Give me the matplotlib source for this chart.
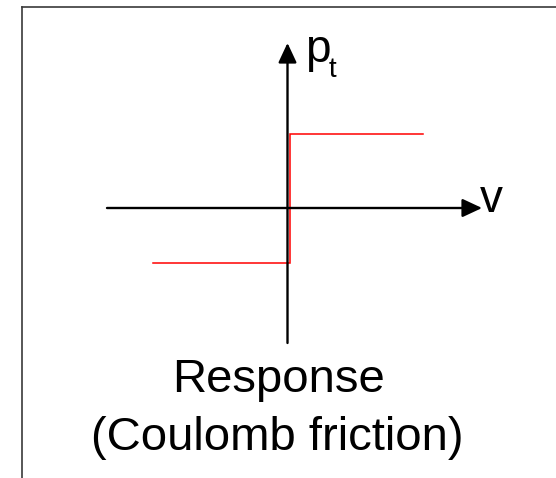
import matplotlib
matplotlib.use("Agg")
import matplotlib.pyplot as plt
from matplotlib.lines import Line2D

# Coulomb friction response: p_t jumps from the lower to the upper level at v = 0
v_vals = [-1.0, 0.02, 0.02, 1.0]
p_vals = [-0.74, -0.74, 1.0, 1.0]

# axis extents (data units)
v_axis = [-1.337, 1.441]
p_axis = [-1.824, 2.230]

W, H = 556, 478
fig = plt.figure(figsize=(W / 100, H / 100), dpi=100)
ax = fig.add_axes([0, 0, 1, 1])
ax.set_xlim(-287.5 / 135, (W - 287.5) / 135)
ax.set_ylim((208 - H) / 74, 208 / 74)
ax.axis("off")

def fx(px):
    return px / W

def fy(py):
    return 1 - py / H

# frame (top and left edges only)
fig.add_artist(Line2D([fx(21.5), 1], [fy(6.7), fy(6.7)], color="#3a3a3a", lw=1.2))
fig.add_artist(Line2D([fx(21.5), fx(21.5)], [fy(6.7), 0], color="#3a3a3a", lw=1.2))

# the response curve
ax.plot(v_vals, p_vals, color="red", lw=1.1, solid_joinstyle="miter")

# axes with arrows
arrow = dict(arrowstyle="-|>,head_length=0.6,head_width=0.28", color="black",
             lw=1.7, mutation_scale=20, shrinkA=0, shrinkB=0)
ax.annotate("", xy=(v_axis[1], 0), xytext=(v_axis[0], 0), arrowprops=arrow)
ax.annotate("", xy=(0, p_axis[1]), xytext=(0, p_axis[0]), arrowprops=arrow)

fnt = "Liberation Sans"
fig.text(fx(305), fy(62), "p", fontsize=33, family=fnt, va="baseline")
fig.text(fx(329), fy(77), "t", fontsize=20, family=fnt, va="baseline")
fig.text(fx(480), fy(212), "v", fontsize=33, family=fnt, va="baseline")

fig.text(fx(279), fy(392), "Response", fontsize=34, family=fnt,
         ha="center", va="baseline")
fig.text(fx(277), fy(450), "(Coulomb friction)", fontsize=34, family=fnt,
         ha="center", va="baseline")

fig.savefig("out.png", dpi=100)
